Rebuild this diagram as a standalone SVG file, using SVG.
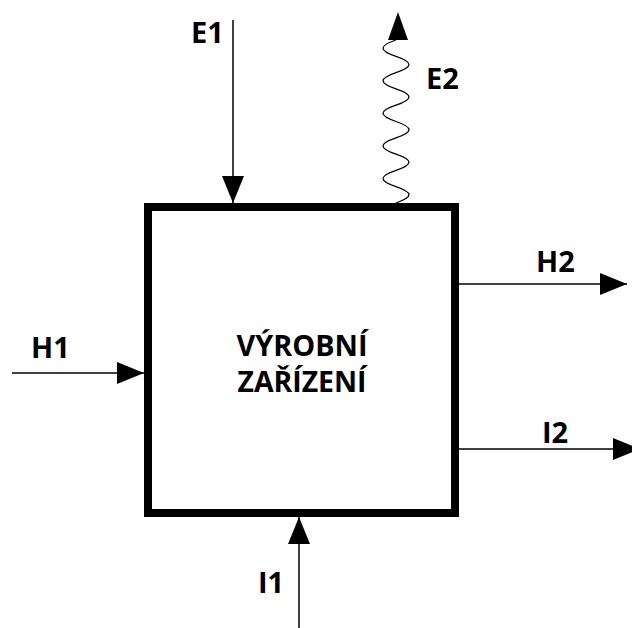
<svg xmlns="http://www.w3.org/2000/svg" width="632" height="628" viewBox="0 0 632 628">
  <style>
    .lbl { font-family: "Open Sans", "Liberation Sans", sans-serif; font-weight: bold; font-size: 29px; fill: #000; }
    .ln { stroke: #000; stroke-width: 1.5; fill: none; }
    .wave { stroke: #000; stroke-width: 1.3; fill: none; }
    .box { stroke: #000; stroke-width: 8; fill: #fff; }
  </style>
  <defs>
    <marker id="ah" markerUnits="userSpaceOnUse" markerWidth="28" markerHeight="22" refX="27" refY="11" orient="auto">
      <path d="M0,0 L27,11 L0,22 z" fill="#000"/>
    </marker>
  </defs>
  <rect width="632" height="628" fill="#fff"/>
  <g id="device">
    <rect class="box" x="148" y="207" width="307" height="306"/>
    <text class="lbl" x="302" y="356" text-anchor="middle" textLength="131" lengthAdjust="spacingAndGlyphs">VÝROBNÍ</text>
    <text class="lbl" x="302" y="392" text-anchor="middle" textLength="129" lengthAdjust="spacingAndGlyphs">ZAŘÍZENÍ</text>
  </g>
  <g id="connectors">
    <path id="E1" class="ln" d="M233,20 V203" marker-end="url(#ah)"/>
    <path id="H1" class="ln" d="M12,373 H144" marker-end="url(#ah)"/>
    <path id="H2" class="ln" d="M459,284 H627" marker-end="url(#ah)"/>
    <path id="I2" class="ln" d="M459,449 H640" marker-end="url(#ah)"/>
    <path id="I1" class="ln" d="M299,628 V517" marker-end="url(#ah)"/>
    <g id="E2">
      <path class="wave" d="M396,40 c-17.3,5.9 -17.3,10.4 0,16.3 c17.3,5.9 17.3,10.4 0,16.3 c-17.3,5.9 -17.3,10.4 0,16.3 c17.3,5.9 17.3,10.4 0,16.3 c-17.3,5.9 -17.3,10.4 0,16.3 c17.3,5.9 17.3,10.4 0,16.3 c-17.3,5.9 -17.3,10.4 0,16.3 c17.3,5.9 17.3,10.4 0,16.3 c-17.3,5.9 -17.3,10.4 0,16.3 c17.3,5.9 17.3,10.4 0,16.3"/>
      <polygon points="398,12 408,40 388,40" fill="#000"/>
    </g>
  </g>
  <g id="labels">
    <text class="lbl" x="191" y="43">E1</text>
    <text class="lbl" x="426" y="89">E2</text>
    <text class="lbl" x="31" y="358">H1</text>
    <text class="lbl" x="536" y="272">H2</text>
    <text class="lbl" x="542" y="443">I2</text>
    <text class="lbl" x="258" y="593">I1</text>
  </g>
</svg>
